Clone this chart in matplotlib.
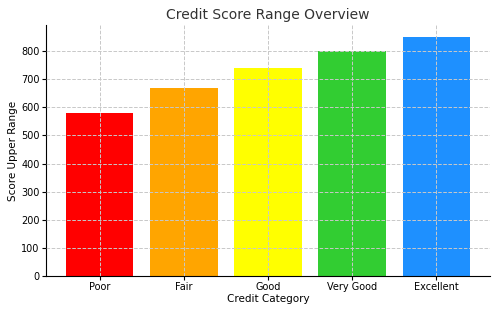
import matplotlib
matplotlib.use('Agg')
import matplotlib.pyplot as plt

categories = ['Poor', 'Fair', 'Good', 'Very Good', 'Excellent']
scores = [580, 670, 740, 800, 850]
colors = ['red', 'orange', 'yellow', 'limegreen', 'dodgerblue']

fig = plt.figure(figsize=(5, 3.12), dpi=100)
ax = fig.add_axes([0.092, 0.115, 0.888, 0.805])
ax.bar(categories, scores, color=colors, width=0.8)
ax.grid(True, linestyle='--', color='#c8c8c8', linewidth=0.7)
ax.set_axisbelow(False)

ax.set_title('Credit Score Range Overview', fontsize=10, color='#333333', pad=4)
ax.set_xlabel('Credit Category', fontsize=7.5, labelpad=1)
ax.set_ylabel('Score Upper Range', fontsize=7.5, labelpad=2)
ax.tick_params(labelsize=7, length=3, width=0.8, pad=1.5)
ax.spines['top'].set_visible(False)
ax.spines['right'].set_visible(False)

fig.savefig('out.png', dpi=100)
plt.close()
